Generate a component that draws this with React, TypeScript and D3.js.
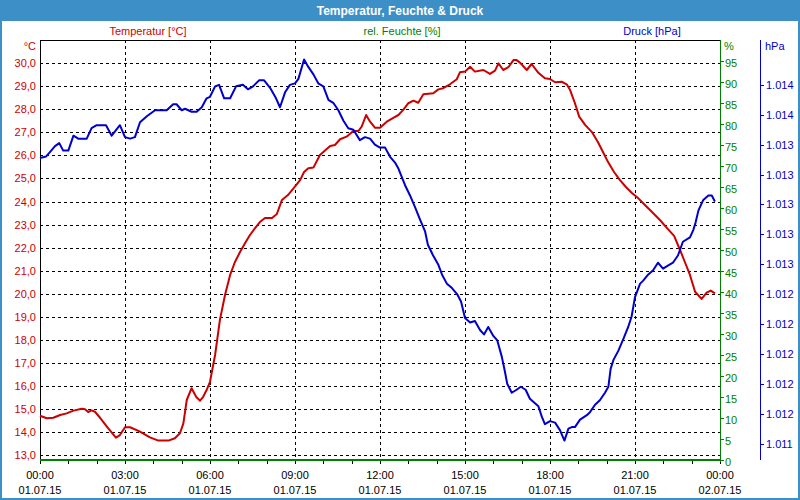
import React, { useEffect } from 'react';
import * as d3 from 'd3';

// ---- data (hours since 01.07.15 00:00) ----
const tempTimes = [0, 0.24, 0.47, 0.71, 0.94, 1.18, 1.47, 1.59, 1.7, 1.82, 1.94, 2.12, 2.41, 2.68, 2.82, 3.0, 3.18, 3.53, 3.88, 4.18, 4.53, 4.76, 4.94, 5.06, 5.18, 5.35, 5.51, 5.65, 5.76, 5.88, 6.0, 6.18, 6.35, 6.53, 6.71, 6.88, 7.06, 7.24, 7.41, 7.59, 7.76, 7.94, 8.19, 8.36, 8.54, 8.75, 8.96, 9.18, 9.32, 9.47, 9.65, 9.88, 10.24, 10.41, 10.59, 10.82, 11.06, 11.24, 11.35, 11.51, 11.65, 11.82, 12.0, 12.24, 12.47, 12.65, 12.82, 13.0, 13.18, 13.35, 13.53, 13.88, 14.06, 14.23, 14.47, 14.71, 14.82, 15.0, 15.18, 15.35, 15.65, 15.88, 16.06, 16.18, 16.35, 16.53, 16.71, 16.82, 16.94, 17.18, 17.35, 17.59, 17.82, 18.0, 18.18, 18.41, 18.59, 18.71, 18.88, 19.03, 19.24, 19.48, 19.69, 19.87, 20.05, 20.26, 20.47, 20.68, 20.89, 21.11, 21.35, 21.6, 21.88, 22.13, 22.38, 22.59, 22.76, 22.94, 23.12, 23.35, 23.53, 23.67, 23.82];
const tempValues = [14.72, 14.61, 14.63, 14.75, 14.82, 14.94, 15.02, 15.0, 14.88, 14.95, 14.89, 14.63, 14.17, 13.77, 13.88, 14.22, 14.22, 14.03, 13.78, 13.64, 13.64, 13.74, 13.96, 14.39, 15.4, 15.91, 15.54, 15.37, 15.54, 15.83, 16.19, 17.35, 18.87, 19.95, 20.82, 21.38, 21.81, 22.2, 22.55, 22.85, 23.11, 23.29, 23.29, 23.46, 24.07, 24.28, 24.59, 24.93, 25.28, 25.44, 25.47, 26.02, 26.41, 26.45, 26.7, 26.81, 27.06, 27.06, 27.24, 27.75, 27.46, 27.2, 27.2, 27.46, 27.63, 27.75, 27.97, 28.26, 28.37, 28.28, 28.65, 28.69, 28.86, 28.91, 29.08, 29.3, 29.6, 29.63, 29.84, 29.63, 29.7, 29.53, 29.67, 29.99, 29.7, 29.82, 30.13, 30.13, 30.02, 29.7, 29.96, 29.58, 29.34, 29.31, 29.17, 29.19, 29.08, 28.83, 28.26, 27.68, 27.32, 27.01, 26.58, 26.15, 25.71, 25.28, 24.93, 24.63, 24.37, 24.15, 23.85, 23.55, 23.2, 22.85, 22.51, 21.9, 21.38, 20.82, 20.09, 19.78, 20.05, 20.14, 20.02];

const pressTimes = [0, 0.21, 0.35, 0.53, 0.68, 0.82, 1.0, 1.18, 1.35, 1.65, 1.82, 2.0, 2.33, 2.53, 2.82, 3.0, 3.18, 3.35, 3.53, 3.77, 4.06, 4.47, 4.7, 4.82, 5.0, 5.12, 5.35, 5.53, 5.71, 5.88, 6.0, 6.18, 6.32, 6.5, 6.71, 6.92, 7.16, 7.34, 7.52, 7.73, 7.91, 8.12, 8.33, 8.47, 8.65, 8.82, 9.0, 9.12, 9.32, 9.47, 9.65, 9.82, 10.0, 10.18, 10.35, 10.53, 10.71, 10.88, 11.06, 11.29, 11.47, 11.65, 11.82, 12.0, 12.18, 12.35, 12.53, 12.65, 12.88, 13.06, 13.24, 13.41, 13.59, 13.69, 13.87, 14.05, 14.19, 14.36, 14.54, 14.72, 14.86, 15.0, 15.18, 15.35, 15.53, 15.67, 15.82, 16.0, 16.14, 16.3, 16.41, 16.49, 16.65, 16.82, 16.97, 17.14, 17.29, 17.47, 17.59, 17.71, 17.82, 18.0, 18.18, 18.35, 18.51, 18.65, 18.77, 18.88, 19.06, 19.3, 19.41, 19.59, 19.76, 19.94, 20.06, 20.14, 20.24, 20.41, 20.59, 20.76, 20.88, 21.0, 21.18, 21.29, 21.46, 21.64, 21.81, 21.99, 22.16, 22.34, 22.52, 22.69, 22.94, 23.06, 23.14, 23.24, 23.41, 23.59, 23.71, 23.82];
const pressValues = [1013.31, 1013.32, 1013.35, 1013.39, 1013.41, 1013.36, 1013.36, 1013.46, 1013.44, 1013.44, 1013.51, 1013.53, 1013.53, 1013.46, 1013.53, 1013.45, 1013.44, 1013.45, 1013.55, 1013.59, 1013.63, 1013.63, 1013.67, 1013.67, 1013.63, 1013.64, 1013.62, 1013.62, 1013.65, 1013.71, 1013.72, 1013.79, 1013.8, 1013.71, 1013.71, 1013.79, 1013.8, 1013.77, 1013.79, 1013.83, 1013.83, 1013.78, 1013.71, 1013.65, 1013.75, 1013.8, 1013.81, 1013.84, 1013.97, 1013.92, 1013.87, 1013.81, 1013.79, 1013.7, 1013.68, 1013.63, 1013.56, 1013.51, 1013.5, 1013.43, 1013.45, 1013.44, 1013.4, 1013.38, 1013.38, 1013.32, 1013.28, 1013.24, 1013.13, 1013.06, 1012.98, 1012.9, 1012.82, 1012.73, 1012.66, 1012.6, 1012.53, 1012.47, 1012.44, 1012.4, 1012.35, 1012.24, 1012.21, 1012.22, 1012.16, 1012.13, 1012.18, 1012.12, 1012.09, 1011.98, 1011.88, 1011.8, 1011.74, 1011.76, 1011.78, 1011.76, 1011.7, 1011.67, 1011.65, 1011.58, 1011.53, 1011.55, 1011.54, 1011.49, 1011.42, 1011.5, 1011.51, 1011.51, 1011.56, 1011.59, 1011.61, 1011.66, 1011.69, 1011.74, 1011.78, 1011.9, 1011.96, 1012.02, 1012.1, 1012.18, 1012.25, 1012.38, 1012.47, 1012.49, 1012.53, 1012.56, 1012.61, 1012.57, 1012.59, 1012.61, 1012.66, 1012.75, 1012.78, 1012.83, 1012.88, 1012.96, 1013.03, 1013.06, 1013.06, 1013.02];

const humTimes = [0, 24];
const humValues = [0, 0];

const tempTicks = [13, 14, 15, 16, 17, 18, 19, 20, 21, 22, 23, 24, 25, 26, 27, 28, 29, 30];
const humTicks = [0, 5, 10, 15, 20, 25, 30, 35, 40, 45, 50, 55, 60, 65, 70, 75, 80, 85, 90, 95];
const pressTicks = [1011.4, 1011.6, 1011.8, 1012.0, 1012.2, 1012.4, 1012.6, 1012.8, 1013.0, 1013.2, 1013.4, 1013.6, 1013.8];
const timeTicks = [0, 3, 6, 9, 12, 15, 18, 21, 24];
const timeLabels = ['00:00', '03:00', '06:00', '09:00', '12:00', '15:00', '18:00', '21:00', '00:00'];
const dateLabels = ['01.07.15', '01.07.15', '01.07.15', '01.07.15', '01.07.15', '01.07.15', '01.07.15', '01.07.15', '02.07.15'];
const minorTicks = d3.range(0, 25);

const W = 800, H = 500;
const L = 40, R = 720, T = 40, B = 460;
const FRAME = '#3d8fc7';
const RED = '#cc0000';
const GREEN = '#008000';
const BLUE = '#0000cc';
const FONT = '"Liberation Sans", Arial, sans-serif';

const de = d3.formatLocale({ decimal: ',', thousands: '.', grouping: [3], currency: ['', '€'] });
const fmtTemp = de.format('.1f');
const fmtPress = de.format(',.0f');

export default function App() {
  useEffect(() => {
    document.body.style.margin = '0';
  }, []);

  const x = d3.scaleLinear().domain([0, 24]).range([L, R]);
  const yT = d3.scaleLinear().domain([12.8, 31.0]).range([B, T]);
  const yH = d3.scaleLinear().domain([0, 100]).range([B, T]);
  const yP = d3.scaleLinear().domain([1011.29, 1014.1]).range([B, T]);

  const tempLine = d3.line<number>().x((_, i) => x(tempTimes[i])).y((d) => yT(d));
  const pressLine = d3.line<number>().x((_, i) => x(pressTimes[i])).y((d) => yP(d));
  const humLine = d3.line<number>().x((_, i) => x(humTimes[i])).y((d) => yH(d));

  return (
    <svg width={W} height={H} style={{ display: 'block', fontFamily: FONT }}>
      <rect x={0} y={0} width={W} height={H} fill={FRAME} />
      <rect x={2} y={21} width={W - 4} height={H - 23} fill="#ffffff" />
      <text x={W / 2} y={14.5} textAnchor="middle" fill="#ffffff" fontSize={12} fontWeight="bold">
        Temperatur, Feuchte &amp; Druck
      </text>

      {/* series headers */}
      <text x={148} y={35} textAnchor="middle" fill={RED} fontSize={11}>Temperatur [°C]</text>
      <text x={402} y={35} textAnchor="middle" fill={GREEN} fontSize={11}>rel. Feuchte [%]</text>
      <text x={652} y={35} textAnchor="middle" fill={BLUE} fontSize={11}>Druck [hPa]</text>

      {/* unit labels */}
      <text x={36} y={50} textAnchor="end" fill={RED} fontSize={11}>°C</text>
      <text x={724} y={50} fill={GREEN} fontSize={11}>%</text>
      <text x={765} y={50} fill={BLUE} fontSize={11}>hPa</text>

      {/* grid */}
      <g stroke="#000" strokeWidth={1} strokeDasharray="3,3" shapeRendering="crispEdges">
        {tempTicks.map((t) => (
          <line key={'h' + t} x1={L} x2={R} y1={Math.round(yT(t)) + 0.5} y2={Math.round(yT(t)) + 0.5} />
        ))}
        {timeTicks.slice(1, -1).map((h) => (
          <line key={'v' + h} x1={Math.round(x(h)) + 0.5} x2={Math.round(x(h)) + 0.5} y1={T} y2={B} />
        ))}
      </g>

      {/* plot frame */}
      <g shapeRendering="crispEdges">
        <line x1={L} x2={R} y1={T + 0.5} y2={T + 0.5} stroke="#000" />
        <line x1={L + 0.5} x2={L + 0.5} y1={T} y2={B} stroke="#000" />
        <line x1={L} x2={R} y1={B + 0.5} y2={B + 0.5} stroke="#000" />
        {minorTicks.map((h) => (
          <line key={'m' + h} x1={Math.round(x(h)) + 0.5} x2={Math.round(x(h)) + 0.5} y1={B} y2={B + 4} stroke="#000" />
        ))}
        <line x1={R + 0.5} x2={R + 0.5} y1={T} y2={B + 2} stroke={GREEN} />
        {humTicks.map((h) => (
          <line key={'ht' + h} x1={R} x2={R + 4} y1={Math.round(yH(h)) + 0.5} y2={Math.round(yH(h)) + 0.5} stroke={GREEN} />
        ))}
        <line x1={760.5} x2={760.5} y1={T} y2={B} stroke={BLUE} />
        {pressTicks.map((p) => (
          <line key={'pt' + p} x1={760} x2={764} y1={Math.round(yP(p)) + 0.5} y2={Math.round(yP(p)) + 0.5} stroke={BLUE} />
        ))}
      </g>

      {/* tick labels */}
      <g fontSize={11}>
        {tempTicks.map((t) => (
          <text key={'tl' + t} x={36} y={yT(t) + 4} textAnchor="end" fill={RED}>{fmtTemp(t)}</text>
        ))}
        {humTicks.map((h) => (
          <text key={'hl' + h} x={725} y={yH(h) + 5.5} fill={GREEN}>{h}</text>
        ))}
        {pressTicks.map((p) => (
          <text key={'pl' + p} x={766} y={yP(p) + 4} fill={BLUE}>{fmtPress(p)}</text>
        ))}
        {timeTicks.map((h, i) => (
          <g key={'xl' + h}>
            <text x={x(h)} y={479} textAnchor="middle" fill="#000">{timeLabels[i]}</text>
            <text x={x(h)} y={494} textAnchor="middle" fill="#000">{dateLabels[i]}</text>
          </g>
        ))}
      </g>

      {/* series */}
      <path d={humLine(humValues) || ''} fill="none" stroke={GREEN} strokeWidth={2} />
      <path d={tempLine(tempValues) || ''} fill="none" stroke={RED} strokeWidth={2} strokeLinejoin="round" />
      <path d={pressLine(pressValues) || ''} fill="none" stroke={BLUE} strokeWidth={2} strokeLinejoin="round" />
    </svg>
  );
}
